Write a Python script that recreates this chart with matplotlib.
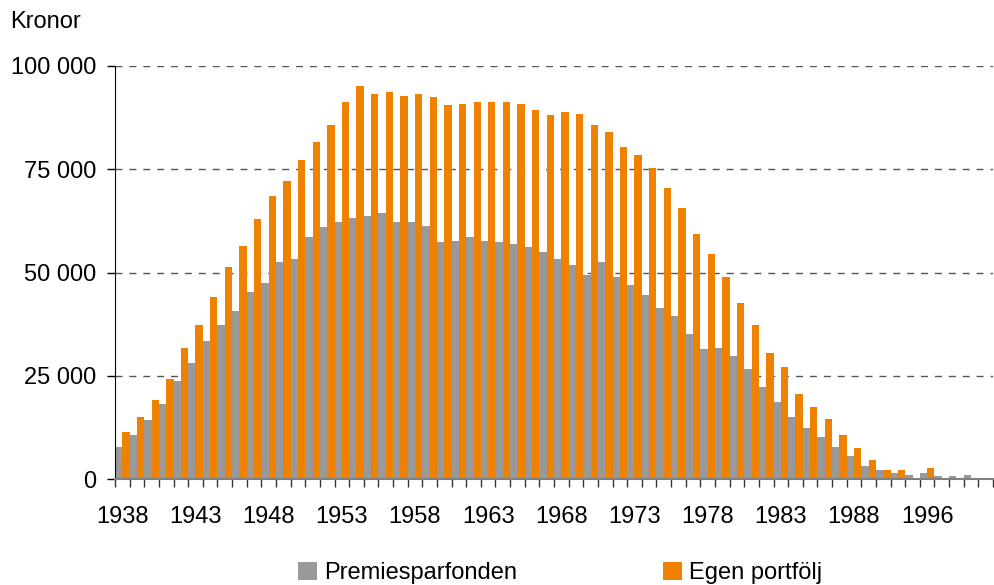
import numpy as np
import matplotlib.pyplot as plt
from matplotlib.ticker import FuncFormatter

plt.rcParams['font.family'] = ['Liberation Sans', 'DejaVu Sans']

# Birth years (categories); the source series skips a few years near the end
years = list(range(1938, 1989)) + [1989, 1990, 1991, 1993, 1996, 1997, 1998, 1999, 2000]

premiesparfonden = [
    7800, 10700, 14400, 18200, 23800, 28200, 33500, 37300, 40700, 45300,
    47500, 52600, 53300, 58600, 61000, 62300, 63200, 63700, 64400, 62300,
    62300, 61300, 57400, 57700, 58600, 57700, 57400, 56900, 56200, 55000,
    53300, 51900, 49400, 52600, 49000, 47000, 44600, 41500, 39500, 35200,
    31500, 31800, 29800, 26700, 22300, 18700, 15100, 12400, 10200, 7800,
    5700, 3200, 2300, 1500, 1000, 1500, 800, 800, 1000, 300,
]
egen_portfolj = [
    11500, 15100, 19200, 24300, 31800, 37300, 44100, 51400, 56500, 63000,
    68600, 72200, 77300, 81600, 85700, 91300, 95200, 93200, 93700, 92800,
    93200, 92500, 90600, 90800, 91300, 91300, 91300, 90800, 89400, 88200,
    88900, 88400, 85700, 84000, 80400, 78500, 75300, 70500, 65700, 59400,
    54500, 49000, 42700, 37300, 30600, 27200, 20700, 17500, 14600, 10700,
    7600, 4700, 2300, 2300, 300, 2700, 0, 0, 0, 0,
]

grey = '#999999'
orange = '#EE8200'
fs = 17

fig = plt.figure(figsize=(9.94, 5.85), dpi=100)
ax = fig.add_axes([115 / 994, 1 - 479.3 / 585, 878 / 994, (479.3 - 66) / 585])

x = np.arange(len(years))
b1 = ax.bar(x, premiesparfonden, width=0.5, align='edge', color=grey,
            label='Premiesparfonden', zorder=2)
b2 = ax.bar(x + 0.5, egen_portfolj, width=0.5, align='edge', color=orange,
            label='Egen portfölj', zorder=2)

ax.set_xlim(0, len(years))
ax.set_ylim(0, 100000)

# y axis
ax.set_yticks([0, 25000, 50000, 75000, 100000])
ax.yaxis.set_major_formatter(FuncFormatter(lambda v, p: f'{int(v):,}'.replace(',', ' ')))
ax.tick_params(axis='y', length=5.5, width=1, color='black', labelsize=fs, pad=8)
ax.grid(axis='y', linestyle=(0, (5, 5)), color='#555555', linewidth=1, zorder=1)

# x axis: tick marks at category boundaries, labels every fifth category
ax.set_xticks(np.arange(0, len(years) + 1))
ax.set_xticklabels([])
ax.set_xticks(x[::5] + 0.5, minor=True)
ax.set_xticklabels([str(years[i]) for i in x[::5]], minor=True)
ax.tick_params(axis='x', which='major', length=6, width=1, color='#333333', direction='out')
ax.tick_params(axis='x', which='minor', length=0, labelsize=fs, pad=19)

ax.spines['top'].set_visible(False)
ax.spines['right'].set_visible(False)
ax.spines['left'].set_color('black')
ax.spines['bottom'].set_color('#808080')
ax.spines['bottom'].set_linewidth(1.5)
ax.set_axisbelow(True)

fig.text(10 / 994, 1 - 22 / 585, 'Kronor', fontsize=fs, va='center', ha='left')

fig.legend(handles=[b1, b2], loc='center', bbox_to_anchor=(560 / 994, 1 - 573 / 585),
           ncol=2, frameon=False, fontsize=fs, handlelength=0.8, handleheight=0.8,
           handletextpad=0.3, columnspacing=6.2, borderaxespad=0)

fig.savefig('out.png', dpi=100, facecolor='white')
plt.close(fig)
